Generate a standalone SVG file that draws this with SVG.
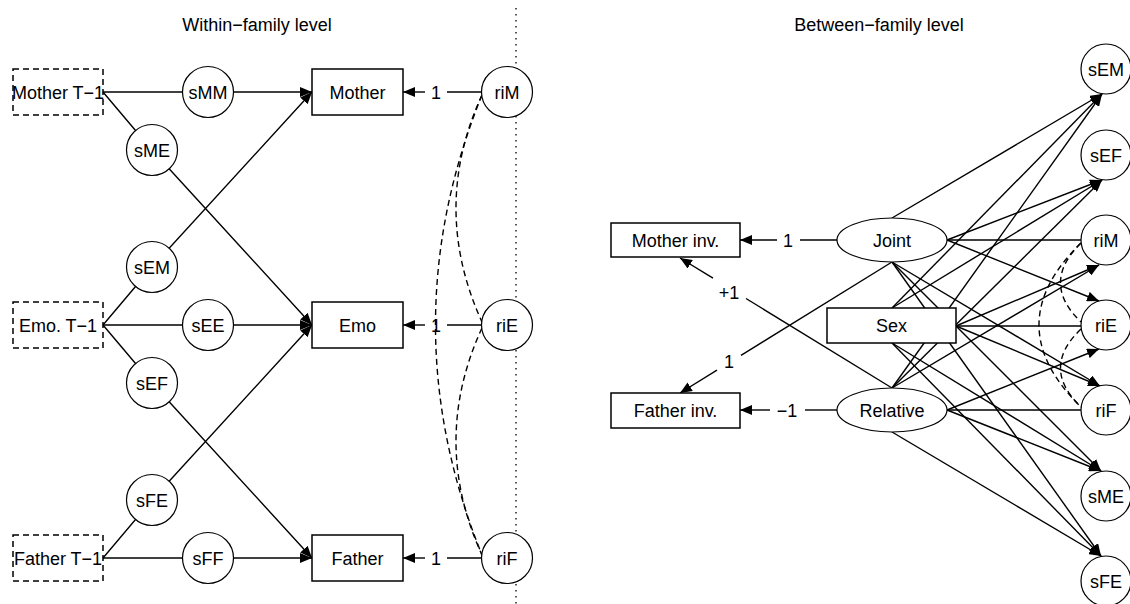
<svg xmlns="http://www.w3.org/2000/svg" width="1130" height="604" viewBox="0 0 1130 604">
<defs>
<style>
text{font-family:"Liberation Sans",Arial,sans-serif;font-size:18px;fill:#000;text-anchor:middle}
.box{fill:#fff;stroke:#000;stroke-width:1.5}
.dbox{fill:none;stroke:#000;stroke-width:1.5;stroke-dasharray:6,4}
.circ{fill:#fff;stroke:#000;stroke-width:1.2}
.e{fill:none;stroke:#000;stroke-width:1.4}
.a{fill:none;stroke:#000;stroke-width:1.4;marker-end:url(#ah)}
.cov{fill:none;stroke:#000;stroke-width:1.4;stroke-dasharray:6,4}
</style>
<marker id="ah" markerUnits="userSpaceOnUse" markerWidth="12" markerHeight="10" viewBox="0 0 12 10" refX="12" refY="5" orient="auto"><path d="M0,0 L12,5 L0,10 z" fill="#000"/></marker>
</defs>
<rect width="1130" height="604" fill="#fff"/>

<g id="titles">
<text x="257" y="31">Within−family level</text>
<text x="879" y="31">Between−family level</text>
<line x1="516" y1="8" x2="516" y2="604" stroke="#000" stroke-width="1.3" stroke-dasharray="1.5,4.5"/>
</g>

<g id="connectors">
<!-- left panel paths -->
<polyline class="a" points="103,92 208,92 312,92"/>
<polyline class="a" points="103,92 152,150 312,325"/>
<polyline class="a" points="103,325 152,267 312,92"/>
<polyline class="a" points="103,325 208,325 312,325"/>
<polyline class="a" points="103,325 152,383 312,558"/>
<polyline class="a" points="103,558 152,500 312,325"/>
<polyline class="a" points="103,558 208,558 312,558"/>
<line class="e" x1="482" y1="92" x2="447" y2="92"/>
<line class="a" x1="425" y1="92" x2="403" y2="92"/>
<line class="e" x1="482" y1="325" x2="447" y2="325"/>
<line class="a" x1="425" y1="325" x2="403" y2="325"/>
<line class="e" x1="482" y1="558" x2="447" y2="558"/>
<line class="a" x1="425" y1="558" x2="403" y2="558"/>
<path class="cov" d="M482,95 Q430,208 482,322"/>
<path class="cov" d="M482,328 Q430,441 482,555"/>
<path class="cov" d="M482,95 Q389,325 482,555"/>
<!-- right panel loadings -->
<line class="e" x1="837" y1="240" x2="800" y2="240"/>
<line class="a" x1="777" y1="240" x2="740" y2="240"/>
<line class="e" x1="837" y1="410" x2="805" y2="410"/>
<line class="a" x1="770" y1="410" x2="740" y2="410"/>
<line class="e" x1="892" y1="388" x2="746" y2="298.5"/>
<line class="a" x1="713" y1="278.2" x2="680" y2="258"/>
<line class="e" x1="892" y1="262" x2="741" y2="355.3"/>
<line class="a" x1="717" y1="370.1" x2="680" y2="393"/>
<!-- right panel regressions -->
<line class="e" x1="947" y1="240" x2="1081" y2="240"/>
<line class="e" x1="956" y1="326" x2="1081" y2="326"/>
<line class="e" x1="947" y1="410" x2="1081" y2="410"/>
<line class="a" x1="892" y1="218" x2="1102" y2="94"/>
<line class="a" x1="947" y1="240" x2="1102" y2="180"/>
<line class="a" x1="947" y1="240" x2="1099" y2="301"/>
<line class="a" x1="892" y1="262" x2="1100" y2="386"/>
<line class="a" x1="892" y1="262" x2="1101" y2="471"/>
<line class="a" x1="892" y1="262" x2="1101" y2="556"/>
<line class="a" x1="892" y1="308" x2="1102" y2="94"/>
<line class="a" x1="892" y1="308" x2="1102" y2="180"/>
<line class="a" x1="956" y1="326" x2="1099" y2="265"/>
<line class="a" x1="956" y1="326" x2="1100" y2="386"/>
<line class="a" x1="892" y1="343" x2="1101" y2="471"/>
<line class="a" x1="892" y1="343" x2="1101" y2="556"/>
<line class="a" x1="892" y1="388" x2="1102" y2="94"/>
<line class="a" x1="892" y1="388" x2="1102" y2="180"/>
<line class="a" x1="892" y1="388" x2="1099" y2="265"/>
<line class="a" x1="947" y1="410" x2="1099" y2="349"/>
<line class="a" x1="947" y1="410" x2="1101" y2="471"/>
<line class="a" x1="892" y1="432" x2="1101" y2="556"/>
<path class="cov" d="M1081,243 Q1040,283 1081,322"/>
<path class="cov" d="M1081,329 Q1040,368 1081,407"/>
<path class="cov" d="M1081,243 Q997,325 1081,407"/>
</g>

<g id="labels">
<text x="436" y="98.5">1</text>
<text x="436" y="331.5">1</text>
<text x="436" y="564.5">1</text>
<text x="788" y="246.5">1</text>
<text x="787" y="416.5">−1</text>
<text x="729" y="298.5">+1</text>
<text x="729" y="368">1</text>
</g>

<g id="MotherT1"><rect class="dbox" x="13" y="69" width="90" height="46"/><text x="58" y="98.5">Mother T−1</text></g>
<g id="EmoT1"><rect class="dbox" x="13" y="302" width="90" height="46"/><text x="58" y="331.5">Emo. T−1</text></g>
<g id="FatherT1"><rect class="dbox" x="13" y="535" width="90" height="46"/><text x="58" y="564.5">Father T−1</text></g>

<g id="sMM"><circle class="circ" cx="208" cy="92" r="25.5"/><text x="208" y="98.5">sMM</text></g>
<g id="sME"><circle class="circ" cx="152" cy="150" r="25.5"/><text x="152" y="156.5">sME</text></g>
<g id="sEM"><circle class="circ" cx="152" cy="267" r="25.5"/><text x="152" y="273.5">sEM</text></g>
<g id="sEE"><circle class="circ" cx="208" cy="325" r="25.5"/><text x="208" y="331.5">sEE</text></g>
<g id="sEF"><circle class="circ" cx="152" cy="383" r="25.5"/><text x="152" y="389.5">sEF</text></g>
<g id="sFE"><circle class="circ" cx="152" cy="500" r="25.5"/><text x="152" y="506.5">sFE</text></g>
<g id="sFF"><circle class="circ" cx="208" cy="558" r="25.5"/><text x="208" y="564.5">sFF</text></g>

<g id="Mother"><rect class="box" x="312" y="69" width="91" height="46"/><text x="357.5" y="98.5">Mother</text></g>
<g id="Emo"><rect class="box" x="312" y="302" width="91" height="46"/><text x="357.5" y="331.5">Emo</text></g>
<g id="Father"><rect class="box" x="312" y="535" width="91" height="46"/><text x="357.5" y="564.5">Father</text></g>

<g id="riM"><circle class="circ" cx="507" cy="92" r="25.5"/><text x="507" y="98.5">riM</text></g>
<g id="riE"><circle class="circ" cx="507" cy="325" r="25.5"/><text x="507" y="331.5">riE</text></g>
<g id="riF"><circle class="circ" cx="507" cy="558" r="25.5"/><text x="507" y="564.5">riF</text></g>

<g id="MotherInv"><rect class="box" x="611" y="223" width="129" height="34"/><text x="675.5" y="246.5">Mother inv.</text></g>
<g id="FatherInv"><rect class="box" x="611" y="393" width="129" height="35"/><text x="675.5" y="417">Father inv.</text></g>
<g id="Joint"><ellipse class="circ" cx="892" cy="240" rx="55" ry="22"/><text x="892" y="246.5">Joint</text></g>
<g id="Sex"><rect class="box" x="827" y="308" width="129" height="35"/><text x="891.5" y="332">Sex</text></g>
<g id="Relative"><ellipse class="circ" cx="892" cy="410" rx="55" ry="22"/><text x="892" y="416.5">Relative</text></g>

<g id="r_sEM"><circle class="circ" cx="1106" cy="69" r="25"/><text x="1106" y="75.5">sEM</text></g>
<g id="r_sEF"><circle class="circ" cx="1106" cy="155" r="25"/><text x="1106" y="161.5">sEF</text></g>
<g id="r_riM"><circle class="circ" cx="1106" cy="240" r="25"/><text x="1106" y="246.5">riM</text></g>
<g id="r_riE"><circle class="circ" cx="1106" cy="325" r="25"/><text x="1106" y="331.5">riE</text></g>
<g id="r_riF"><circle class="circ" cx="1106" cy="410" r="25"/><text x="1106" y="416.5">riF</text></g>
<g id="r_sME"><circle class="circ" cx="1106" cy="496" r="25"/><text x="1106" y="502.5">sME</text></g>
<g id="r_sFE"><circle class="circ" cx="1106" cy="581" r="25"/><text x="1106" y="587.5">sFE</text></g>
</svg>
